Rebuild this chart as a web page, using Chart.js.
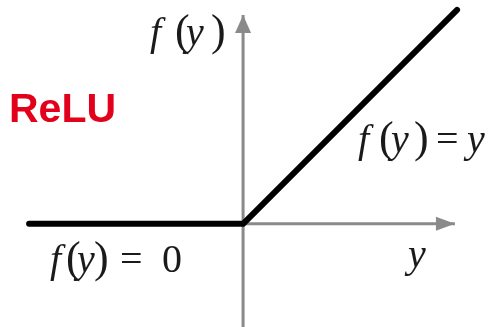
<!DOCTYPE html>
<html lang="en">

<head>
  <meta charset="UTF-8">
  <title>ReLU</title>
  <script src="https://cdn.jsdelivr.net/npm/chart.js"></script>
  <style>
    html, body { margin: 0; padding: 0; background: #fff; }
    #wrap { width: 499px; height: 327px; }
  </style>
</head>

<body>
  <div id="wrap"><canvas id="reluChart"></canvas></div>

  <script>
    // ReLU: f(y) = max(0, y)
    const reluX = [-5, 0, 5];
    const reluY = [0, 0, 5];

    // axis lines (ends carry the arrow heads)
    const xAxisX = [-5, 4.95];
    const xAxisY = [0, 0];
    const yAxisX = [0, 0];
    const yAxisY = [-2.5, 4.88];

    const toPoints = (xs, ys) => xs.map((x, i) => ({ x: x, y: ys[i] }));

    // formula labels, drawn piece by piece (italic for variables)
    const formulaLabels = [
      { x: 150, y: 45, parts: [['f', true, 0], ['(', false, 25], ['y', true, 36], [')', false, 61]] },
      { x: 358, y: 152, parts: [['f', true, 0], ['(', false, 21], ['y', true, 33], [')', false, 56], ['=', false, 78], ['y', true, 109]] },
      { x: 50, y: 272, parts: [['f', true, 0], ['(', false, 16], ['y', true, 27], [')', false, 44], ['=', false, 70], ['0', false, 112]] },
      { x: 408, y: 267, parts: [['y', true, 0]] }
    ];

    const labelPlugin = {
      id: 'labels',
      afterDatasetsDraw(chart) {
        const ctx = chart.ctx;
        const xs = chart.scales.x, ys = chart.scales.y;
        ctx.save();
        ctx.fillStyle = '#8a8a8a';
        // arrow heads
        const ox = xs.getPixelForValue(0), oy = ys.getPixelForValue(0);
        const tipX = xs.getPixelForValue(xAxisX[1]);
        ctx.beginPath();
        ctx.moveTo(tipX, oy);
        ctx.lineTo(tipX - 19, oy - 7);
        ctx.lineTo(tipX - 19, oy + 7);
        ctx.closePath();
        ctx.fill();
        const tipY = ys.getPixelForValue(yAxisY[1]);
        ctx.beginPath();
        ctx.moveTo(ox, tipY);
        ctx.lineTo(ox - 8, tipY + 18);
        ctx.lineTo(ox + 8, tipY + 18);
        ctx.closePath();
        ctx.fill();

        ctx.fillStyle = '#1a1a1a';
        ctx.textBaseline = 'alphabetic';
        formulaLabels.forEach(l => {
          l.parts.forEach(([t, it, dx]) => {
            const paren = t === '(' || t === ')';
            ctx.font = (it ? 'italic ' : '') + (paren ? '44px' : '40px') + ' "Liberation Serif"';
            ctx.fillText(t, l.x + dx, l.y);
          });
        });

        ctx.fillStyle = '#e2001a';
        ctx.font = 'bold 41px "Liberation Sans"';
        ctx.fillText('ReLU', 9, 122);
        ctx.restore();
      }
    };

    const ctx = document.getElementById('reluChart').getContext('2d');
    new Chart(ctx, {
      type: 'scatter',
      data: {
        datasets: [
          {
            data: toPoints(reluX, reluY),
            showLine: true,
            borderColor: '#000',
            borderWidth: 6,
            borderCapStyle: 'round',
            borderJoinStyle: 'round',
            pointRadius: 0,
            order: 0
          },
          {
            data: toPoints(xAxisX, xAxisY),
            showLine: true,
            borderColor: '#8a8a8a',
            borderWidth: 3,
            pointRadius: 0,
            order: 1
          },
          {
            data: toPoints(yAxisX, yAxisY),
            showLine: true,
            borderColor: '#8a8a8a',
            borderWidth: 3,
            pointRadius: 0,
            order: 1
          }
        ]
      },
      plugins: [labelPlugin],
      options: {
        responsive: true,
        maintainAspectRatio: false,
        animation: false,
        layout: { padding: 0 },
        plugins: { legend: { display: false }, tooltip: { enabled: false } },
        scales: {
          x: { type: 'linear', display: false, min: -5.68, max: 5.98 },
          y: { type: 'linear', display: false, min: -2.41, max: 5.23 }
        }
      }
    });
  </script>
</body>

</html>
